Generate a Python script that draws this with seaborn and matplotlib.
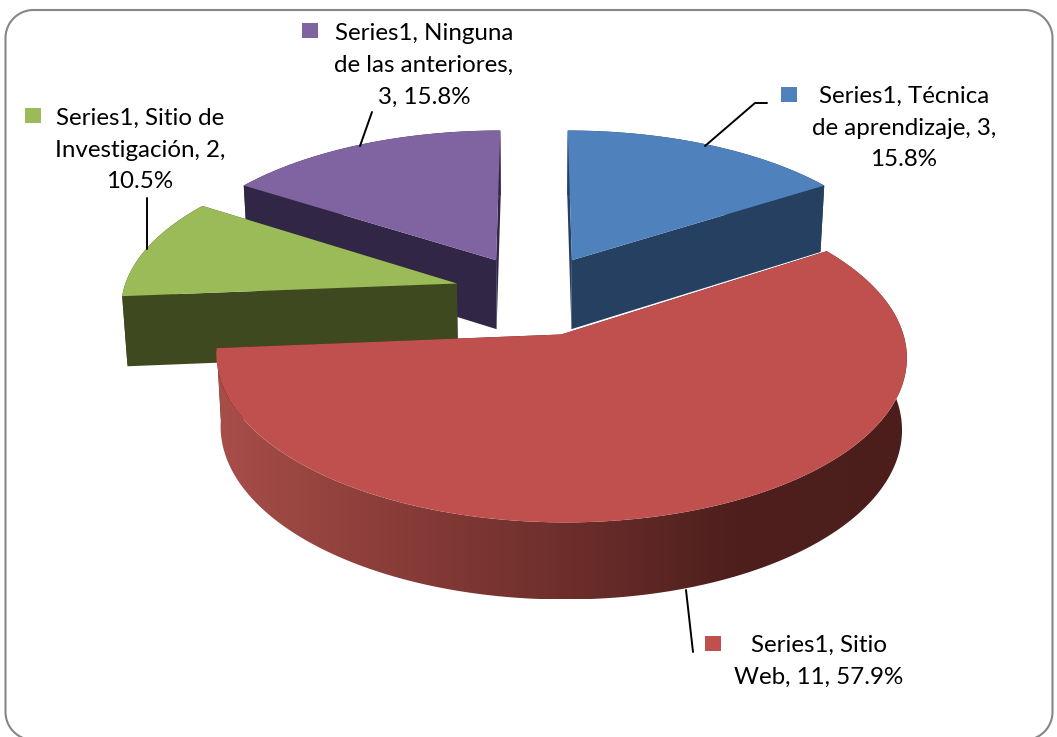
import numpy as np
import matplotlib
matplotlib.use("Agg")
import matplotlib.pyplot as plt
import seaborn as sns
from matplotlib.patches import Polygon, Rectangle
from matplotlib.transforms import Transform

## Data
categories = ["Técnica de aprendizaje", "Sitio Web", "Sitio de Investigación", "Ninguna de las anteriores"]
values = [3, 11, 2, 3]
label_texts = [
    "Series1, Técnica\nde aprendizaje, 3,\n15.8%",
    "Series1, Sitio\nWeb, 11, 57.9%",
    "Series1, Sitio de\nInvestigación, 2,\n10.5%",
    "Series1, Ninguna\nde las anteriores,\n3, 15.8%",
]

## Styles
top_colors = sns.color_palette(["#4F81BD", "#C0504D", "#9BBB59", "#8064A2"])
side_colors = sns.color_palette(["#254061", "#4B1E1C", "#3E4920", "#322646"])
rim_cmap = sns.blend_palette(["#A84E49", "#8A3D39", "#6E2F2C", "#4E1F1D", "#4B1E1C"], as_cmap=True)
explode = [0.245, 0.27, 0.24, 0.245]
draw_order = [3, 0, 2, 1]  # back to front

# Label layout: text centre, legend key corner, leader line points
label_centres = [(904, 128), (819, 661), (140, 150), (424, 65)]
key_corners = [(781, 87), (705, 636), (25, 108), (302, 23)]
leaders = [
    [(767, 103), (755, 103), (705, 146)],
    [(686, 590), (693, 652)],
    [(147, 198), (147, 249)],
    [(372, 112), (360, 146)],
]

sns.set_theme(style="white")
plt.rcParams["font.family"] = ["Lato", "DejaVu Sans"]


# Camera model fitted to the picture, z=0 is the top of the pie, z=1 the underside
def project(x, y, z):
    s = 1 / (1 + 0.128 * y)
    px = 534 + 334 * x * s * (1 - 0.013 * z)
    py = 292.5 - 154 * y * s + 70 * z * s ** 0.55
    return px, py


class PieProjection(Transform):
    input_dims = 2
    output_dims = 2

    def __init__(self, z=0):
        super().__init__()
        self.z = z

    def transform_non_affine(self, values):
        px, py = project(values[:, 0], values[:, 1], self.z)
        return np.column_stack([px, py])


fig, ax = plt.subplots(figsize=(10.57, 7.37), dpi=100)
fig.subplots_adjust(left=0, right=1, bottom=0, top=1)

wedges, _ = ax.pie(values, explode=explode, colors=top_colors, startangle=90, counterclock=False, radius=1)

# the big slice sits a little closer in than the others
big = wedges[categories.index("Sitio Web")]
big.set_radius(0.99)
big.set_center((big.center[0] - 0.009, big.center[1] - 0.008))

for order, i in enumerate(draw_order):
    wedge = wedges[i]
    cx, cy = wedge.center
    r = wedge.r
    base = 2 * order + 2
    wedge.set_transform(PieProjection(0) + ax.transData)
    wedge.set_zorder(base + 1)
    wedge.set_linewidth(0)

    # radial walls
    for theta in (wedge.theta1, wedge.theta2):
        ex = cx + r * np.cos(np.radians(theta))
        ey = cy + r * np.sin(np.radians(theta))
        corners = [project(cx, cy, 0), project(ex, ey, 0), project(ex, ey, 1), project(cx, cy, 1)]
        ax.add_patch(Polygon(corners, facecolor=side_colors[i], edgecolor="none", zorder=base))

    # outer rim
    angles = np.radians(np.linspace(wedge.theta1, wedge.theta2, 200))
    rx = cx + r * np.cos(angles)
    ry = cy + r * np.sin(angles)
    upper = np.column_stack(project(rx, ry, 0))
    lower = np.column_stack(project(rx, ry, 1))
    outline = np.vstack([upper, lower[::-1]])
    if wedge is big:
        rim = Polygon(outline, facecolor="none", edgecolor="none", zorder=base)
        ax.add_patch(rim)
        image = ax.imshow(
            np.linspace(0, 1, 256)[None, :],
            extent=(outline[:, 0].min(), outline[:, 0].max(), outline[:, 1].max(), outline[:, 1].min()),
            cmap=rim_cmap, aspect="auto", zorder=base,
        )
        image.set_clip_path(rim)
    else:
        ax.add_patch(Polygon(outline, facecolor=side_colors[i], edgecolor="none", zorder=base))

## Labels
for i in range(len(categories)):
    ax.text(label_centres[i][0], label_centres[i][1], label_texts[i], ha="center", va="center",
            fontsize=17.4, color="black", linespacing=1.64, zorder=20)
    ax.add_patch(Rectangle(key_corners[i], 16, 15, facecolor=top_colors[i], edgecolor="none", zorder=20))
    xs, ys = zip(*leaders[i])
    ax.plot(xs, ys, color="black", linewidth=1.4, zorder=15)

## Frame, the bottom edge falls off the picture so only the corners show
left, right, top, bottom, corner = 5.5, 1052.5, 10, 740, 28
arc = np.radians(np.linspace(0, 90, 30))
frame_x = np.concatenate([left + corner - corner * np.cos(arc[::-1]), left + corner - corner * np.cos(arc),
                          right - corner + corner * np.sin(arc), right - corner + corner * np.cos(arc)])
frame_y = np.concatenate([bottom - corner + corner * np.sin(arc[::-1]), top + corner - corner * np.sin(arc),
                          top + corner - corner * np.cos(arc), bottom - corner + corner * np.sin(arc)])
ax.plot(frame_x, frame_y, color="#868686", linewidth=1.5, zorder=25)

ax.set_aspect("auto")
ax.set_xlim(0, 1057)
ax.set_ylim(737, 0)
ax.set_axis_off()

fig.savefig("out.png", dpi=100, facecolor="white")
